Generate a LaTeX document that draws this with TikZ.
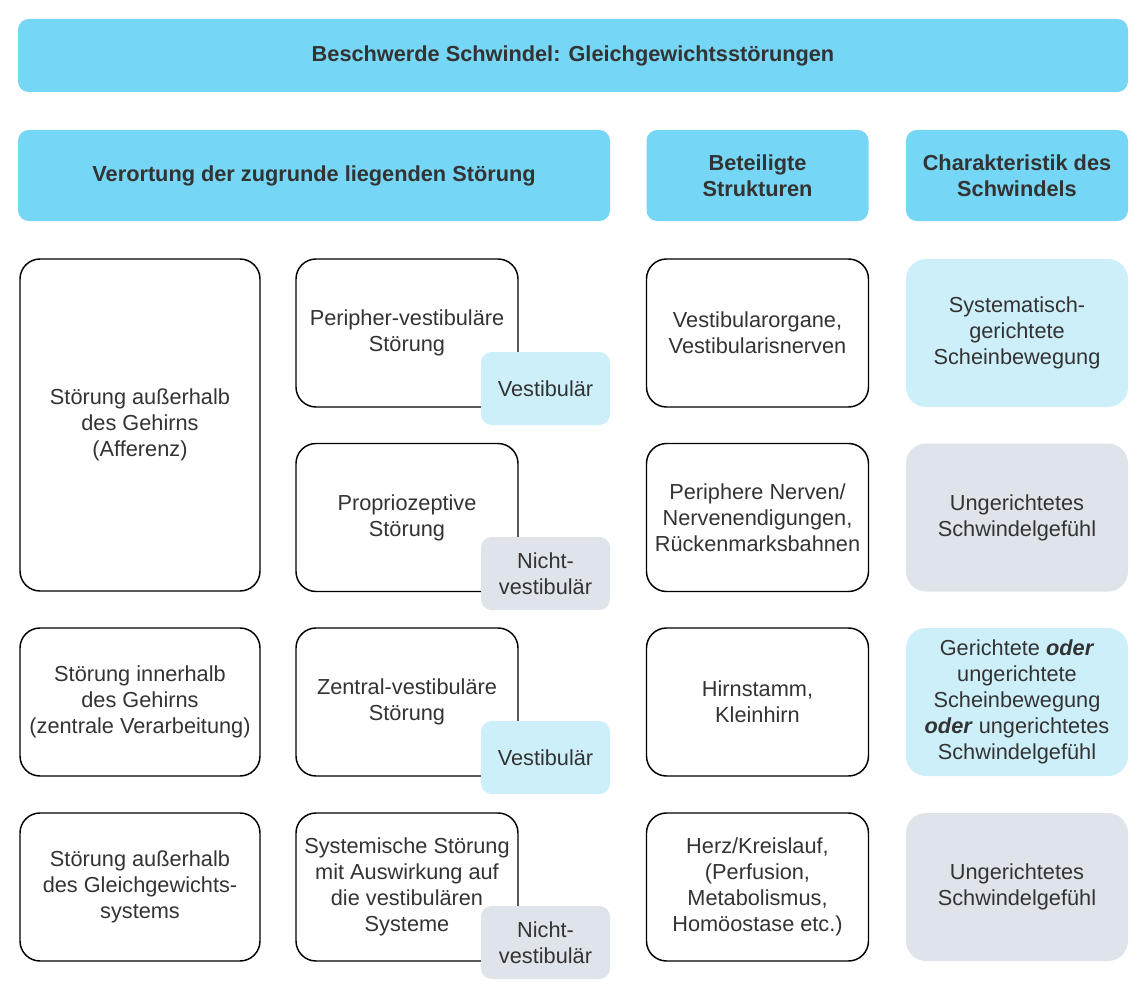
\documentclass[tikz,border=0pt]{standalone}
\usepackage{fontspec}
\setmainfont{Liberation Sans}
\definecolor{hdrblue}{HTML}{76D6F5}
\definecolor{lightblue}{HTML}{CDEFFA}
\definecolor{lightgray}{HTML}{DFE3EA}
\definecolor{txtgray}{HTML}{333333}
\tikzset{
  every node/.style={font=\fontsize{16.3}{19.6}\selectfont, text=txtgray, align=center, inner sep=0pt},
  hdr/.style={fill=hdrblue, rounded corners=8pt, font=\fontsize{16.3}{19.6}\selectfont\bfseries},
  box/.style={draw=black, line width=1.1pt, fill=white, rounded corners=15pt,
    minimum width=166.5pt, minimum height=111pt},
  wbox/.style={box, minimum width=180pt},
  tag/.style={rounded corners=8pt, minimum width=96.75pt, minimum height=54.75pt},
  vtag/.style={tag, fill=lightblue},
  ntag/.style={tag, fill=lightgray},
  vchar/.style={fill=lightblue, rounded corners=15pt, minimum width=166.5pt, minimum height=111pt},
  nchar/.style={fill=lightgray, rounded corners=15pt, minimum width=166.5pt, minimum height=111pt}
}
\begin{document}
\begin{tikzpicture}[x=0.75pt, y=-0.75pt]
    \useasboundingbox (0,0) rectangle (1147,999);
    \node[hdr, minimum width=832.5pt, minimum height=54.75pt] (title) at (573,55.5)
        {Beschwerde Schwindel: Gleichgewichtsstörungen};
    \node[hdr, minimum width=444pt, minimum height=68.25pt] (ort) at (314,175.5)
        {Verortung der zugrunde liegenden Störung};
    \node[hdr, minimum width=166.5pt, minimum height=68.25pt] (struk) at (757.5,175.5)
        {Beteiligte\\Strukturen};
    \node[hdr, minimum width=166.5pt, minimum height=68.25pt] (charak) at (1017,175.5)
        {Charakteristik des\\Schwindels};

    \node[wbox, minimum height=249pt] (aussen) at (140,425)
        {Störung außerhalb\\des Gehirns\\(Afferenz)};
    \node[wbox] (innen) at (140,702)
        {Störung innerhalb\\des Gehirns\\(zentrale Verarbeitung)};
    \node[wbox] (system) at (140,887)
        {Störung außerhalb\\des Gleichgewichts-\\systems};

    \node[box] (peri) at (407,333) {Peripher-vestibuläre\\Störung};
    \node[box] (proprio) at (407,517.5) {Propriozeptive\\Störung};
    \node[box] (zentral) at (407,702) {Zentral-vestibuläre\\Störung};
    \node[box] (systemisch) at (407,887)
        {Systemische Störung\\mit Auswirkung auf\\die vestibulären\\Systeme};

    \node[vtag] (tagperi) at (545.5,388.5) {Vestibulär};
    \node[ntag] (tagproprio) at (545.5,573.5) {Nicht-\\vestibulär};
    \node[vtag] (tagzentral) at (545.5,757.5) {Vestibulär};
    \node[ntag] (tagsystem) at (545.5,942.5) {Nicht-\\vestibulär};

    \node[box] (organe) at (757.5,333) {Vestibularorgane,\\Vestibularisnerven};
    \node[box] (nerven) at (757.5,517.5)
        {Periphere Nerven/\\Nervenendigungen,\\Rückenmarksbahnen};
    \node[box] (hirn) at (757.5,702) {Hirnstamm,\\Kleinhirn};
    \node[box] (herz) at (757.5,887)
        {Herz/Kreislauf,\\(Perfusion,\\Metabolismus,\\Homöostase etc.)};

    \node[vchar] (gerichtet) at (1017,333)
        {Systematisch-\\gerichtete\\Scheinbewegung};
    \node[nchar] (ungerichtet) at (1017,517.5)
        {Ungerichtetes\\Schwindelgefühl};
    \node[vchar] (beides) at (1017,702)
        {Gerichtete \textbf{\textit{oder}}\\ungerichtete\\Scheinbewegung\\\textbf{\textit{oder}} ungerichtetes\\Schwindelgefühl};
    \node[nchar] (ungerichtet2) at (1017,887)
        {Ungerichtetes\\Schwindelgefühl};
\end{tikzpicture}
\end{document}
